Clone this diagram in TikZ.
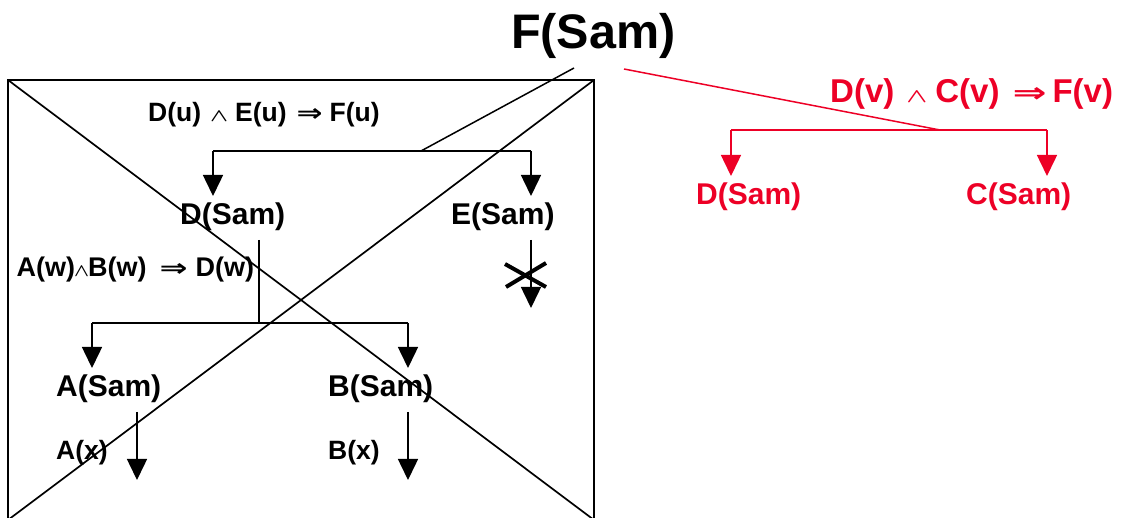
\documentclass[tikz,border=0pt]{standalone}
\usepackage{fontspec}
\setmainfont{Liberation Sans}
\newfontfamily\symf{DejaVu Sans}
\usepackage{graphicx}
\usetikzlibrary{arrows.meta}
\definecolor{rred}{RGB}{237,0,38}
\newcommand{\andsym}[2]{\resizebox{#1}{#2}{\boldmath$\wedge$}}
\newcommand{\impl}[2]{\resizebox{#1}{#2}{\symf\bfseries ⇒}}
\begin{document}
\begin{tikzpicture}[x=1pt,y=-1pt,
  lbl/.style={anchor=base west, inner sep=0pt, font=\bfseries\fontsize{30}{36}\selectfont},
  rulelbl/.style={anchor=base west, inner sep=0pt, font=\bfseries\fontsize{26.5}{31}\selectfont},
  ln/.style={line width=1.5pt},
  arr/.style={ln, -{Triangle[width=20pt,length=21pt]}},
  boxline/.style={line width=1.7pt},
]
\useasboundingbox (0,0) rectangle (1125,518);

% box with diagonals
\coordinate (bTL) at (8,80);
\coordinate (bTR) at (594,80);
\coordinate (bBL) at (8,520);
\coordinate (bBR) at (594,520);
\draw[boxline] (bBL) -- (bTL) -- (bTR) -- (bBR);
\draw[boxline] (bTL) -- (bBR);
\draw[boxline] (bTR) -- (bBL);

% texts
\node[lbl, font=\bfseries\fontsize{48.5}{56}\selectfont] (FSam) at (511,49) {F(Sam)};
\node[rulelbl] (r1) at (148,122) {D(u)\hspace{9pt}\andsym{18pt}{10pt}\hspace{7pt}E(u)\hspace{10pt}\impl{26pt}{13pt}\hspace{7pt}F(u)};
\node[lbl] (DSam) at (180,225) {D(Sam)};
\node[lbl] (ESam) at (451,225) {E(Sam)};
\node[rulelbl, font=\bfseries\fontsize{27}{31}\selectfont] (r2) at (16.5,277) {A(w)\hspace{-1pt}\andsym{15pt}{10pt}\hspace{-1pt}B(w)\hspace{13pt}\impl{28pt}{13pt}\hspace{8pt}D(w)};
\node[lbl] (ASam) at (56,397) {A(Sam)};
\node[lbl] (BSam) at (328,397) {B(Sam)};
\node[rulelbl] (Ax) at (56,460) {A(x)};
\node[rulelbl] (Bx) at (328,460) {B(x)};

\node[lbl, text=rred, font=\bfseries\fontsize{33}{38}\selectfont] (r3) at (830,103) {D(v)\hspace{12pt}\andsym{21pt}{11pt}\hspace{8pt}C(v)\hspace{13pt}\impl{34pt}{15pt}\hspace{6pt}F(v)};
\node[lbl, text=rred] (DSam2) at (696,205) {D(Sam)};
\node[lbl, text=rred] (CSam) at (966,205) {C(Sam)};

% top black rule
\coordinate (f1) at (574,68);
\coordinate (j1) at (421,151);
\coordinate (b1L) at (213,151);
\coordinate (b1R) at (531,151);
\coordinate (t1L) at (213,196);
\coordinate (t1R) at (531,196);
\draw[ln] (f1) -- (j1);
\draw[ln] (b1L) -- (b1R);
\draw[arr] (b1L) -- (t1L);
\draw[arr] (b1R) -- (t1R);

% E(Sam) blocked
\coordinate (e1) at (531,240);
\coordinate (e2) at (531,308);
\draw[arr] (e1) -- (e2);
\draw[line width=4pt] (505,264) -- (546,287);
\draw[line width=4pt] (506,287) -- (546,263);

% D(Sam) rule
\coordinate (d1) at (259,240);
\coordinate (d2) at (259,323);
\coordinate (b2L) at (92,323);
\coordinate (b2R) at (408,323);
\coordinate (t2L) at (92,368);
\coordinate (t2R) at (408,368);
\draw[ln] (d1) -- (d2);
\draw[ln] (b2L) -- (b2R);
\draw[arr] (b2L) -- (t2L);
\draw[arr] (b2R) -- (t2R);

% A and B
\coordinate (a1) at (137,412);
\coordinate (a2) at (137,480);
\coordinate (c1) at (408,412);
\coordinate (c2) at (408,480);
\draw[arr] (a1) -- (a2);
\draw[arr] (c1) -- (c2);

% red rule
\coordinate (f2) at (624,69);
\coordinate (j2) at (940,130);
\coordinate (b3L) at (731,130);
\coordinate (b3R) at (1047,130);
\coordinate (t3L) at (731,176);
\coordinate (t3R) at (1047,176);
\draw[ln, rred] (f2) -- (j2);
\draw[ln, rred] (b3L) -- (b3R);
\draw[arr, rred] (b3L) -- (t3L);
\draw[arr, rred] (b3R) -- (t3R);
\end{tikzpicture}
\end{document}
